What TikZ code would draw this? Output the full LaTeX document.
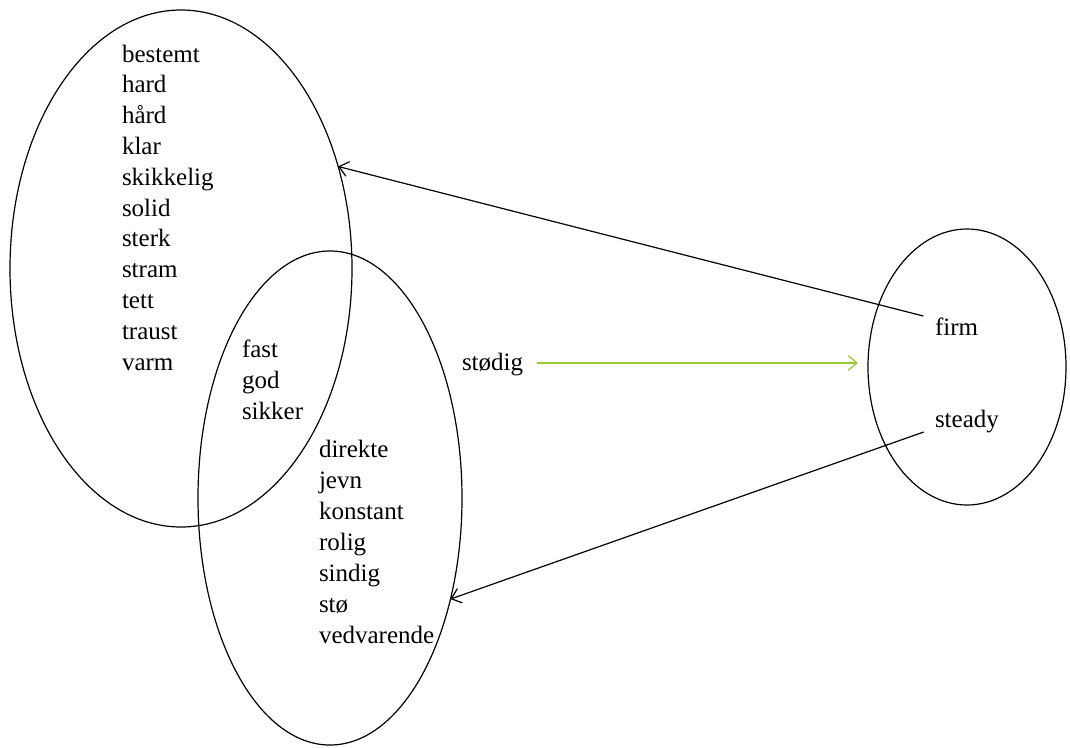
\documentclass[tikz,border=0pt]{standalone}
\usepackage{fontspec}
\setmainfont{Liberation Serif}
\usetikzlibrary{shapes.geometric,arrows.meta}
\begin{document}
\begin{tikzpicture}[x=1pt,y=-1pt,
  set/.style={draw,ellipse,line width=1.2pt,inner sep=0pt,outer sep=0pt},
  word/.style={anchor=base west,inner sep=0pt,outer sep=0pt,font=\fontsize{25}{30}\selectfont},
  link/.style={line width=1.2pt,-{Straight Barb[length=9pt,width=15pt,line width=1.2pt]}}]
\useasboundingbox[fill=white] (0,0) rectangle (1070,747);
\node[set,minimum width=342pt,minimum height=517pt] (E1) at (181,268.5) {};
\node[set,minimum width=264pt,minimum height=494pt] (E2) at (330,498) {};
\node[set,minimum width=198pt,minimum height=276pt] (E3) at (967,367) {};
\foreach \w [count=\i from 0] in {bestemt,hard,hård,klar,skikkelig,solid,sterk,stram,tett,traust,varm}
  \node[word] (L\i) at (122,62+30.8*\i) {\w};
\foreach \w [count=\i from 0] in {fast,god,sikker}
  \node[word] (M\i) at (242,357+31*\i) {\w};
\foreach \w [count=\i from 0] in {direkte,jevn,konstant,rolig,sindig,stø,vedvarende}
  \node[word] (R\i) at (319,457+31*\i) {\w};
\node[word] (stodig) at (462,370) {stødig};
\node[word] (firm) at (935,335) {firm};
\node[word] (steady) at (935,427) {steady};
\coordinate (gtip) at (858,363);
\draw[link,shorten <=12pt] (firm.base west) ++(0,-16) coordinate (fs) -- (E1.33.7);
\draw[link,shorten <=12pt] (steady.base west) ++(0,1) coordinate (ss) -- (E2.-40.5);
\draw[link,draw={rgb,255:red,154;green,205;blue,50},shorten <=14pt] (stodig.east |- gtip) -- (gtip);
\end{tikzpicture}
\end{document}
